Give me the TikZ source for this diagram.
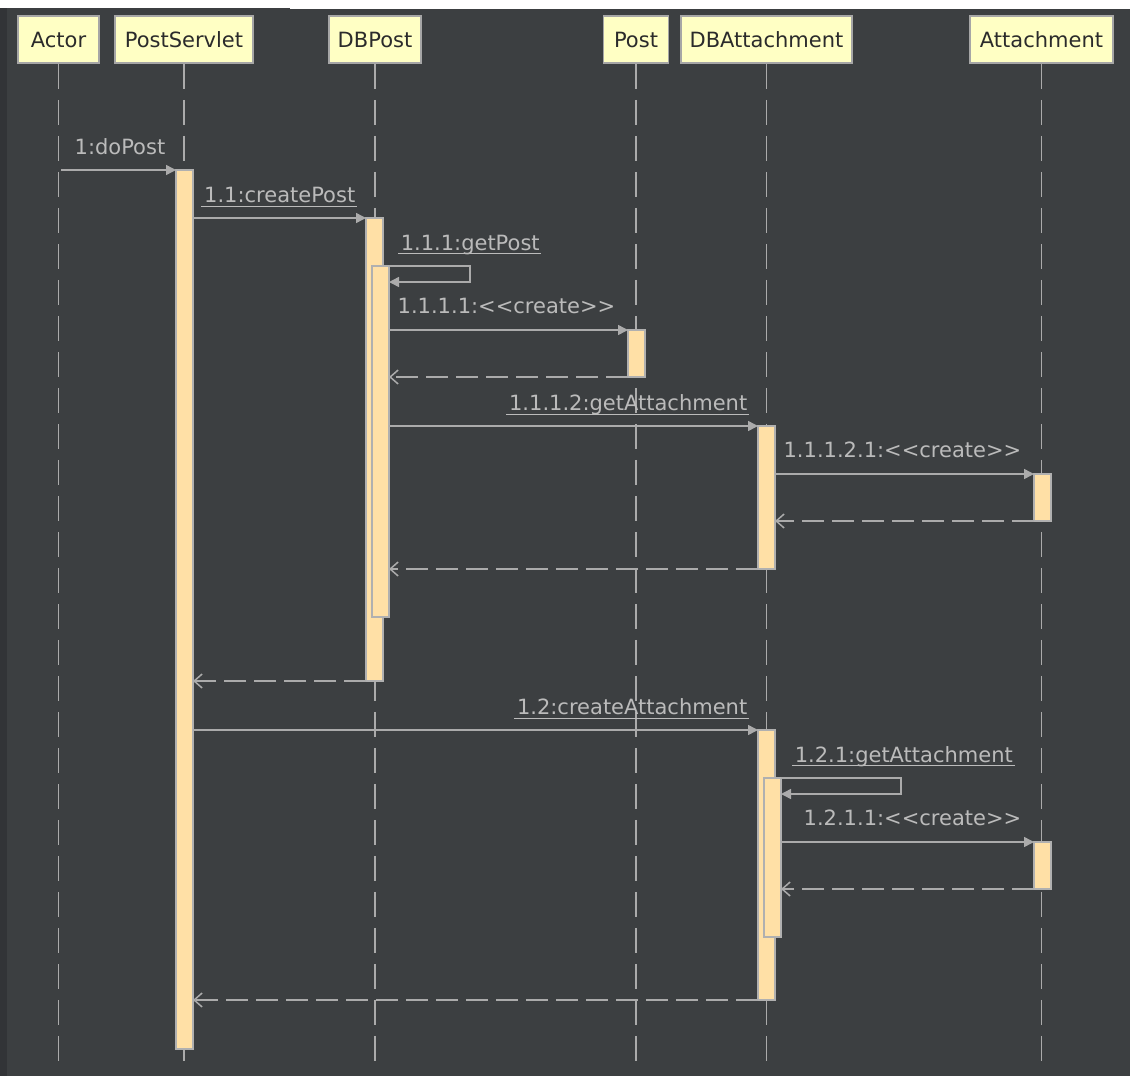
\documentclass[tikz,border=0pt]{standalone}
\usepackage{fontspec}
\setmainfont{DejaVu Sans}
\usetikzlibrary{arrows.meta}
\definecolor{bg}{HTML}{3C3F41}
\definecolor{edgestrip}{HTML}{323437}
\definecolor{headfill}{HTML}{FFFFC4}
\definecolor{headborder}{HTML}{A6A6A6}
\definecolor{headtext}{HTML}{2B2B2B}
\definecolor{barfill}{HTML}{FFE0A6}
\definecolor{barborder}{HTML}{B0B0B0}
\definecolor{wire}{HTML}{ABABAB}
\definecolor{labeltext}{HTML}{BBBBBB}
\newcommand{\seqfont}{\fontsize{21}{24}\selectfont}
% stereotype text without the << -> guillemet ligature
\newcommand{\stereo}[1]{<{}<#1>{}>}
\tikzset{
  head/.style={draw=headborder, line width=1.6pt, fill=headfill, text=headtext,
    minimum height=47pt, inner sep=0pt, font=\seqfont},
  lifeline/.style={draw=wire, line width=1.8pt, dash pattern=on 25pt off 11pt},
  actbar/.style={draw=barborder, line width=1.6pt, fill=barfill,
    minimum width=17pt, inner sep=0pt, outer sep=0pt, anchor=north},
  call/.style={draw=wire, line width=1.5pt, -{Triangle[length=10pt,width=10pt]}},
  ret/.style={draw=wire, line width=1.5pt, dash pattern=on 22pt off 8pt,
    -{Straight Barb[length=8pt,width=14pt,line width=1.5pt]}},
  lbl/.style={text=labeltext, inner sep=0pt, font=\seqfont},
  uline/.style={draw=labeltext, line width=1.2pt, shorten <=-2pt, shorten >=-1pt}
}
\begin{document}
\begin{tikzpicture}[x=1pt,y=-1pt]
% canvas
\useasboundingbox (0,0) rectangle (1130,1076);
\fill[white] (0,0) rectangle (1130,9);
\fill[bg] (0,8) rectangle (290,1076);
\fill[bg] (290,9) rectangle (1130,1076);
\fill[edgestrip] (0,8) rectangle (7,1076);

% participants
\node[head, minimum width=81pt]  (hactor)  at (58.5,39.5)  {Actor};
\node[head, minimum width=138pt] (hserv)   at (184,39.5)   {PostServlet};
\node[head, minimum width=92pt]  (hdbpost) at (375,39.5)   {DBPost};
\node[head, minimum width=65pt]  (hpost)   at (636,39.5)   {Post};
\node[head, minimum width=171pt] (hdbatt)  at (766.5,39.5) {DBAttachment};
\node[head, minimum width=143pt] (hatt)    at (1041.5,39.5){Attachment};

% lifelines
\foreach \h/\e in {hactor/eactor, hserv/eserv, hdbpost/edbpost, hpost/epost, hdbatt/edbatt, hatt/eatt}{
  \coordinate (\e) at (\h.south |- 0,1061);
  \draw[lifeline] (\h.south) -- (\e);
}

% activation bars
\node[actbar, minimum height=879pt] (bserv)  at (184.5,170) {};
\node[actbar, minimum height=463pt] (bdbo)   at (374.5,218) {};
\node[actbar, minimum height=351pt] (bdbi)   at (380.5,266) {};
\node[actbar, minimum height=47pt]  (bpost)  at (636.5,330) {};
\node[actbar, minimum height=143pt] (bda1)   at (766.5,426) {};
\node[actbar, minimum height=47pt]  (batt1)  at (1042.5,474) {};
\node[actbar, minimum height=270pt] (bda2)   at (766.5,730) {};
\node[actbar, minimum height=159pt] (bdai)   at (772.5,778) {};
\node[actbar, minimum height=47pt]  (batt2)  at (1042.5,842) {};

% messages
\coordinate (start) at (61,170);
\draw[call] (start) -- (bserv.north west)
  node[lbl, anchor=base east, xshift=-10pt, yshift=16pt] (m1) {1:doPost};

\draw[call] (bserv.east |- bdbo.north) -- (bdbo.north west)
  node[lbl, anchor=base east, xshift=-10pt, yshift=16pt] (m2) {1.1:createPost};
\draw[uline] ([yshift=-4.5pt]m2.base west) -- ([yshift=-4.5pt]m2.base east);

\draw[call] (bdbi.north east)
  node[lbl, anchor=base west, xshift=11pt, yshift=16pt] (m3) {1.1.1:getPost}
  -- ++(81,0) -- ++(0,16) -- (bdbi.east |- 0,282);
\draw[uline] ([yshift=-3.5pt]m3.base west) -- ([yshift=-3.5pt]m3.base east);

\draw[call] (bdbi.east |- bpost.north) -- (bpost.north west)
  node[lbl, anchor=base east, xshift=-12pt, yshift=17pt] (m4) {1.1.1.1:\stereo{create}};
\draw[ret] (bpost.south west) -- (bdbi.east |- bpost.south);

\draw[call] (bdbi.east |- bda1.north) -- (bda1.north west)
  node[lbl, anchor=base east, xshift=-10pt, yshift=16pt] (m5) {1.1.1.2:getAttachment};
\draw[uline] ([yshift=-4.5pt]m5.base west) -- ([yshift=-4.5pt]m5.base east);

\draw[call] (bda1.east |- batt1.north) -- (batt1.north west)
  node[lbl, anchor=base east, xshift=-12pt, yshift=17pt] (m6) {1.1.1.2.1:\stereo{create}};
\draw[ret] (batt1.south west) -- (bda1.east |- batt1.south);

\draw[ret] (bda1.south west) -- (bdbi.east |- bda1.south);
\draw[ret] (bdbo.south west) -- (bserv.east |- bdbo.south);

\draw[call] (bserv.east |- bda2.north) -- (bda2.north west)
  node[lbl, anchor=base east, xshift=-10pt, yshift=16pt] (m7) {1.2:createAttachment};
\draw[uline] ([yshift=-4.5pt]m7.base west) -- ([yshift=-4.5pt]m7.base east);

\draw[call] (bdai.north east)
  node[lbl, anchor=base west, xshift=13pt, yshift=16pt] (m8) {1.2.1:getAttachment}
  -- ++(120,0) -- ++(0,16) -- (bdai.east |- 0,794);
\draw[uline] ([yshift=-3.5pt]m8.base west) -- ([yshift=-3.5pt]m8.base east);

\draw[call] (bdai.east |- batt2.north) -- (batt2.north west)
  node[lbl, anchor=base east, xshift=-12pt, yshift=17pt] (m9) {1.2.1.1:\stereo{create}};
\draw[ret] (batt2.south west) -- (bdai.east |- batt2.south);

\draw[ret] (bda2.south west) -- (bserv.east |- bda2.south);
\end{tikzpicture}
\end{document}
